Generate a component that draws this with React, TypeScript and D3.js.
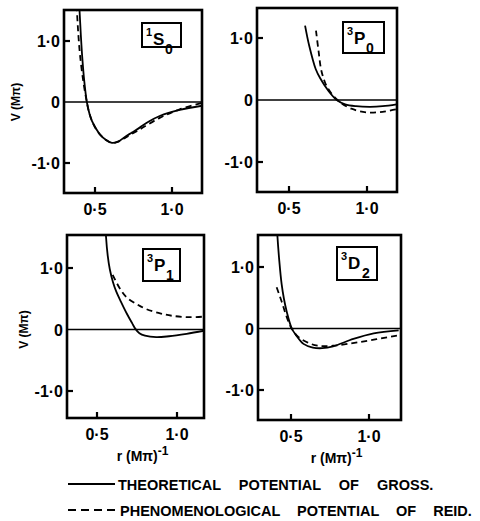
import React from "react";
import * as d3 from "d3";

type Pt = [number, number];

// r (Mπ)^-1 , V (Mπ)
const s0Gross: Pt[] = [[0.392,1.75],[0.399,1.52],[0.408,1.1],[0.417,0.74],[0.43,0.35],[0.447,0],[0.465,-0.2],[0.48,-0.31],[0.51,-0.45],[0.534,-0.54],[0.57,-0.62],[0.61,-0.67],[0.65,-0.65],[0.69,-0.58],[0.74,-0.5],[0.79,-0.42],[0.85,-0.32],[0.92,-0.23],[1.05,-0.13],[1.2,-0.06]];
const s0Reid: Pt[] = [[0.376,1.75],[0.382,1.52],[0.392,1.1],[0.404,0.74],[0.425,0.32],[0.447,0],[0.465,-0.2],[0.51,-0.46],[0.57,-0.62],[0.61,-0.67],[0.65,-0.65],[0.7,-0.58],[0.79,-0.45],[0.92,-0.26],[1.05,-0.12],[1.2,-0.01]];
const p0Gross: Pt[] = [[0.603,1.2],[0.63,0.87],[0.671,0.5],[0.70,0.35],[0.752,0.15],[0.806,0],[0.86,-0.07],[0.93,-0.1],[1.02,-0.11],[1.1,-0.1],[1.19,-0.07]];
const p0Reid: Pt[] = [[0.673,1.12],[0.69,0.78],[0.705,0.5],[0.72,0.36],[0.74,0.23],[0.78,0.08],[0.83,-0.04],[0.9,-0.14],[1.0,-0.2],[1.1,-0.19],[1.19,-0.15]];
const p1Gross: Pt[] = [[0.552,1.75],[0.556,1.52],[0.567,1.2],[0.58,0.98],[0.6,0.77],[0.62,0.62],[0.65,0.45],[0.686,0.26],[0.72,0.1],[0.74,0.01],[0.765,-0.06],[0.8,-0.1],[0.87,-0.125],[0.95,-0.11],[1.06,-0.07],[1.17,-0.02]];
const p1Reid: Pt[] = [[0.598,0.89],[0.64,0.68],[0.686,0.52],[0.75,0.41],[0.81,0.33],[0.9,0.26],[0.977,0.22],[1.08,0.2],[1.17,0.21]];
const d2Gross: Pt[] = [[0.408,1.75],[0.412,1.54],[0.425,1.1],[0.44,0.72],[0.455,0.48],[0.472,0.28],[0.505,0],[0.53,-0.1],[0.58,-0.25],[0.64,-0.31],[0.7,-0.32],[0.77,-0.29],[0.9,-0.17],[1.03,-0.08],[1.19,-0.03]];
const d2Reid: Pt[] = [[0.408,0.67],[0.44,0.44],[0.468,0.22],[0.5,0.02],[0.54,-0.12],[0.6,-0.22],[0.67,-0.28],[0.77,-0.28],[0.94,-0.22],[1.19,-0.11]];

const xTicks = [0.5, 1.0];
const xTickLabels = ["0·5", "1·0"];
const yTicks = [1.0, 0, -1.0];
const yTickLabels = ["1·0", "0", "-1·0"];

const stateLabels = [
  { sup: "1", main: "S", sub: "0" },
  { sup: "3", main: "P", sub: "0" },
  { sup: "3", main: "P", sub: "1" },
  { sup: "3", main: "D", sub: "2" },
];
const grossSeries = [s0Gross, p0Gross, p1Gross, d2Gross];
const reidSeries = [s0Reid, p0Reid, p1Reid, d2Reid];

const legendLabels = ["THEORETICAL POTENTIAL OF GROSS.", "PHENOMENOLOGICAL POTENTIAL OF REID."];

// layout (pixels)
const panels = [
  { x0: 64, x1: 202, y0: 10, y1: 193, rA: 95, rB: 172, vP: 41, vM: 163, box: [142, 23, 39, 24], yTitle: 16, xTitle: false },
  { x0: 257, x1: 397, y0: 8, y1: 192, rA: 289, rB: 367, vP: 38, vM: 162, box: [343, 22, 41, 31], yTitle: 0, xTitle: false },
  { x0: 67, x1: 204, y0: 235, y1: 418, rA: 97, rB: 177, vP: 268, vM: 391, box: [143, 249, 37, 32], yTitle: 24, xTitle: true },
  { x0: 258, x1: 401, y0: 235, y1: 420, rA: 291, rB: 369, vP: 267, vM: 390, box: [337, 247, 40, 33], yTitle: 0, xTitle: true },
];

const FONT = "'Liberation Sans', Arial, Helvetica, sans-serif";

function Panel({ i }: { i: number }) {
  const p = panels[i];
  const x = d3.scaleLinear().domain([0.5, 1.0]).range([p.rA, p.rB]);
  const y = d3.scaleLinear().domain([-1, 1]).range([p.vM, p.vP]);
  const line = d3
    .line<Pt>()
    .x((d) => x(d[0]))
    .y((d) => y(d[1]))
    .curve(d3.curveCatmullRom.alpha(0.5));
  const clipId = `clip${i}`;
  const [bx, by, bw, bh] = p.box;
  const lab = stateLabels[i];
  const xc = (p.x0 + p.x1) / 2;
  return (
    <g>
      <defs>
        <clipPath id={clipId}>
          <rect x={p.x0} y={p.y0} width={p.x1 - p.x0} height={p.y1 - p.y0} />
        </clipPath>
      </defs>
      <g clipPath={`url(#${clipId})`} fill="none" stroke="#000">
        <line x1={p.x0} x2={p.x1} y1={y(0)} y2={y(0)} strokeWidth={1.6} />
        <path d={line(grossSeries[i]) || ""} strokeWidth={1.8} />
        <path d={line(reidSeries[i]) || ""} strokeWidth={1.8} strokeDasharray="6,4" />
      </g>
      <rect x={p.x0} y={p.y0} width={p.x1 - p.x0} height={p.y1 - p.y0} fill="none" stroke="#000" strokeWidth={2.6} />
      {yTicks.map((t, k) => (
        <g key={"y" + k}>
          {t !== 0 && <line x1={p.x0} x2={p.x0 + 6} y1={y(t)} y2={y(t)} stroke="#000" strokeWidth={2.2} />}
          <text x={p.x0 - 4} y={y(t) + 6} textAnchor="end" fontFamily={FONT} fontWeight="bold" fontSize={16}>
            {yTickLabels[k]}
          </text>
        </g>
      ))}
      {xTicks.map((t, k) => (
        <g key={"x" + k}>
          <line x1={x(t)} x2={x(t)} y1={p.y1} y2={p.y1 - 6} stroke="#000" strokeWidth={2.2} />
          <text x={x(t)} y={p.y1 + 22} textAnchor="middle" fontFamily={FONT} fontWeight="bold" fontSize={16}>
            {xTickLabels[k]}
          </text>
        </g>
      ))}
      <rect x={bx} y={by} width={bw} height={bh} fill="#fff" stroke="#000" strokeWidth={2} />
      <text x={bx + 4} y={by + 13} fontFamily={FONT} fontWeight="bold" fontSize={11}>{lab.sup}</text>
      <text x={bx + 11} y={by + 22} fontFamily={FONT} fontWeight="bold" fontSize={17}>{lab.main}</text>
      <text x={bx + (lab.main === "D" ? 25 : 23)} y={by + 31} fontFamily={FONT} fontWeight="bold" fontSize={14}>{lab.sub}</text>
      {p.yTitle > 0 && (
        <text
          transform={`translate(${p.yTitle + 4},${y(0)}) rotate(-90)`}
          textAnchor="middle"
          fontFamily={FONT}
          fontWeight="bold"
          fontSize={12}
        >
          V (Mπ)
        </text>
      )}
      {p.xTitle && (
        <text x={xc + 7} y={p.y1 + 43} textAnchor="middle" fontFamily={FONT} fontWeight="bold" fontSize={14}>
          r (Mπ)
          <tspan dy={-6} fontSize={12}>-1</tspan>
        </text>
      )}
    </g>
  );
}

export default function App() {
  return (
    <svg width={480} height={521} style={{ position: "absolute", left: 0, top: 0, background: "#fff" }}>
      <rect x={0} y={0} width={480} height={521} fill="#fff" />
      {panels.map((_, i) => (
        <Panel key={i} i={i} />
      ))}
      <line x1={68} x2={115} y1={484} y2={484} stroke="#000" strokeWidth={2} />
      <text x={118} y={489.5} fontFamily={FONT} fontWeight="bold" fontSize={14.5} wordSpacing={14}>
        {legendLabels[0]}
      </text>
      <line x1={68} x2={117} y1={510} y2={510} stroke="#000" strokeWidth={2} strokeDasharray="8,5" />
      <text x={120} y={515.5} fontFamily={FONT} fontWeight="bold" fontSize={14.5} wordSpacing={13}>
        {legendLabels[1]}
      </text>
    </svg>
  );
}
